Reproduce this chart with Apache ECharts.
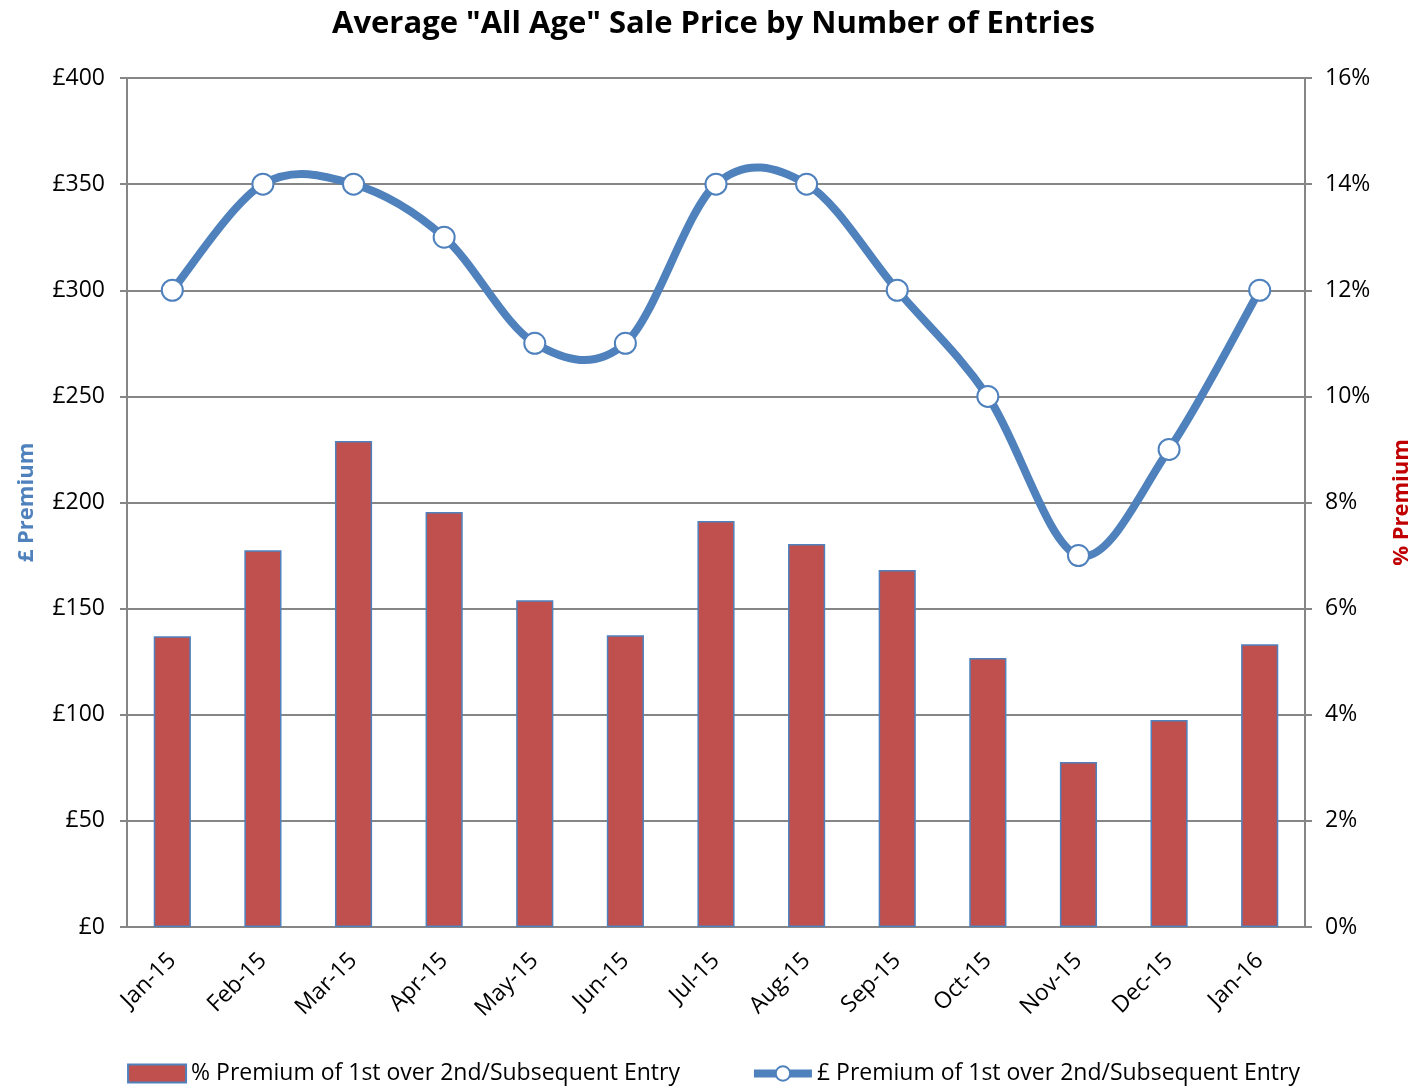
<!DOCTYPE html>
<html>
<head>
<meta charset="utf-8">
<script src="https://cdn.jsdelivr.net/npm/echarts@6/dist/echarts.min.js"></script>
<style>
  html, body { margin: 0; padding: 0; background: #fff; }
  #main { width: 1427px; height: 1086px; }
</style>
</head>
<body>
<div id="main"></div>
<script>
// data
var months = ['Jan-15', 'Feb-15', 'Mar-15', 'Apr-15', 'May-15', 'Jun-15', 'Jul-15',
  'Aug-15', 'Sep-15', 'Oct-15', 'Nov-15', 'Dec-15', 'Jan-16'];
var pctPremium = [5.48, 7.10, 9.16, 7.82, 6.16, 5.50, 7.65, 7.22, 6.73, 5.07, 3.11, 3.90, 5.33];
var gbpPremium = [300, 350, 350, 325, 275, 275, 350, 350, 300, 250, 175, 225, 300];
var leftTicks = [0, 400, 50];   // min, max, step
var rightTicks = [0, 16, 2];

var font = 'Open Sans';
var blue = '#4F81BD';
var gbpName = '£ Premium of 1st over 2nd/Subsequent Entry';
var pctName = '% Premium of 1st over 2nd/Subsequent Entry';
var chart = echarts.init(document.getElementById('main'));

// excel style smoothing (catmull-rom), one bezier piece per data point
function smoothPiece(params, api) {
  var i = params.dataIndex;
  var n = gbpPremium.length;
  if (i >= n - 1) return;
  function pt(k) {
    k = Math.max(0, Math.min(n - 1, k));
    return api.coord([k, gbpPremium[k]]);
  }
  var p0 = pt(i - 1), p1 = pt(i), p2 = pt(i + 1), p3 = pt(i + 2);
  return {
    type: 'bezierCurve',
    shape: {
      x1: p1[0], y1: p1[1], x2: p2[0], y2: p2[1],
      cpx1: p1[0] + (p2[0] - p0[0]) / 6, cpy1: p1[1] + (p2[1] - p0[1]) / 6,
      cpx2: p2[0] - (p3[0] - p1[0]) / 6, cpy2: p2[1] - (p3[1] - p1[1]) / 6
    },
    style: { fill: null, stroke: blue, lineWidth: 8, lineCap: 'round' }
  };
}

var option = {
  backgroundColor: '#fff',
  animation: false,
  title: {
    text: 'Average "All Age" Sale Price by Number of Entries',
    left: 'center',
    top: 4,
    textStyle: { fontFamily: font, fontSize: 31, fontWeight: 'bold', color: '#000' }
  },
  legend: {
    top: 1057,
    left: 'center',
    itemGap: 70,
    itemWidth: 58,
    itemHeight: 18,
    textStyle: { fontFamily: font, fontSize: 23, color: '#000' },
    data: [
      { name: pctName, icon: 'rect', itemStyle: { borderWidth: 2 } },
      { name: gbpName, lineStyle: { color: blue, width: 8, opacity: 1 } }
    ]
  },
  grid: { left: 127, right: 122, top: 78, bottom: 159 },
  xAxis: {
    type: 'category',
    data: months,
    axisLine: { lineStyle: { color: '#868686', width: 2 } },
    axisTick: { show: false },
    axisLabel: {
      rotate: 45,
      margin: 30,
      fontFamily: font,
      fontSize: 23,
      color: '#000'
    }
  },
  yAxis: [
    {
      type: 'value',
      min: leftTicks[0], max: leftTicks[1], interval: leftTicks[2],
      name: '£ Premium',
      nameLocation: 'middle',
      nameGap: 89,
      nameTextStyle: { fontFamily: font, fontSize: 22, fontWeight: 'bold', color: blue },
      axisLine: { show: true, lineStyle: { color: '#868686', width: 2 } },
      axisTick: { show: true, length: 7, lineStyle: { color: '#868686', width: 2 } },
      splitLine: { lineStyle: { color: '#868686', width: 2 } },
      axisLabel: {
        fontFamily: font, fontSize: 23, color: '#000', margin: 22,
        formatter: function (v) { return '£' + v; }
      }
    },
    {
      type: 'value',
      min: rightTicks[0], max: rightTicks[1], interval: rightTicks[2],
      name: '% Premium',
      nameLocation: 'middle',
      nameGap: 86,
      nameTextStyle: { fontFamily: font, fontSize: 22, fontWeight: 'bold', color: '#C00000' },
      axisLine: { show: true, lineStyle: { color: '#868686', width: 2 } },
      axisTick: { show: true, length: 7, lineStyle: { color: '#868686', width: 2 } },
      splitLine: { show: false },
      axisLabel: {
        fontFamily: font, fontSize: 23, color: '#000', margin: 20,
        formatter: function (v) { return v + '%'; }
      }
    }
  ],
  series: [
    {
      name: pctName,
      type: 'bar',
      yAxisIndex: 1,
      data: pctPremium,
      barWidth: '41%',
      itemStyle: { color: '#C0504D', borderColor: blue, borderWidth: 1.5 }
    },
    {
      // the curve itself
      type: 'custom',
      yAxisIndex: 0,
      data: gbpPremium,
      renderItem: smoothPiece,
      silent: true,
      z: 4
    },
    {
      // markers + legend entry
      name: gbpName,
      type: 'line',
      yAxisIndex: 0,
      data: gbpPremium,
      symbol: 'circle',
      symbolSize: 21,
      lineStyle: { color: blue, width: 8, opacity: 0 },
      itemStyle: { color: '#fff', borderColor: blue, borderWidth: 2 },
      z: 5
    }
  ]
};

chart.setOption(option);
</script>
</body>
</html>
